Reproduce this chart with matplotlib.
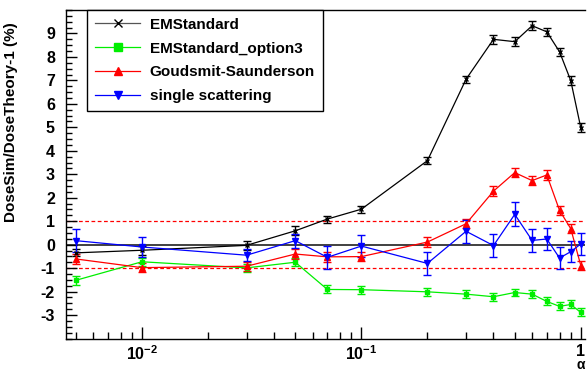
import matplotlib
matplotlib.use("Agg")
import matplotlib.pyplot as plt
from matplotlib.lines import Line2D
from matplotlib.ticker import FixedLocator, LogLocator, MultipleLocator, NullFormatter, FixedFormatter

plt.rcParams['font.family'] = ['Liberation Sans', 'DejaVu Sans']
plt.rcParams['font.weight'] = 'bold'
plt.rcParams['axes.unicode_minus'] = False
plt.rcParams['mathtext.fontset'] = 'custom'
plt.rcParams['mathtext.rm'] = 'Liberation Sans:bold'
plt.rcParams['mathtext.bf'] = 'Liberation Sans:bold'
plt.rcParams['mathtext.it'] = 'Liberation Sans:bold'

# ---- data ----
x = [0.005, 0.01, 0.03, 0.05, 0.07, 0.1, 0.2, 0.3, 0.4, 0.5, 0.6, 0.7, 0.8, 0.9, 1.0]

em_std = [-0.35, -0.24, -0.03, 0.59, 1.09, 1.51, 3.58, 7.05, 8.75, 8.65, 9.33, 9.07, 8.22, 6.99, 4.98]
em_std_err = [0.15, 0.2, 0.18, 0.2, 0.15, 0.15, 0.15, 0.15, 0.18, 0.18, 0.18, 0.17, 0.18, 0.2, 0.2]

opt3 = [-1.52, -0.73, -0.99, -0.75, -1.91, -1.92, -2.01, -2.11, -2.22, -2.04, -2.11, -2.42, -2.63, -2.55, -2.89]
opt3_err = [0.18, 0.17, 0.17, 0.17, 0.17, 0.17, 0.17, 0.17, 0.17, 0.17, 0.17, 0.17, 0.17, 0.17, 0.17]

gs = [-0.61, -0.98, -0.92, -0.40, -0.52, -0.51, 0.11, 0.89, 2.28, 3.07, 2.73, 2.97, 1.46, 0.68, -0.89]
gs_err = [0.2, 0.2, 0.2, 0.2, 0.2, 0.2, 0.2, 0.2, 0.2, 0.2, 0.2, 0.2, 0.2, 0.2, 0.2]

ss = [0.17, -0.10, -0.45, 0.17, -0.54, -0.06, -0.80, 0.57, -0.04, 1.29, 0.18, 0.24, -0.57, -0.30, 0.03]
ss_err = [0.5, 0.42, 0.25, 0.3, 0.48, 0.47, 0.49, 0.5, 0.49, 0.51, 0.5, 0.48, 0.46, 0.45, 0.48]

labels = ["EMStandard", "EMStandard_option3", "Goudsmit-Saunderson", "single scattering"]
ylabel = "DoseSim/DoseTheory-1 (%)"
xlabel = "α"
xticks = [0.01, 0.1, 1.0]
xticklabels = [r"$10^{-2}$", r"$10^{-1}$", "1"]
yticks = [-3, -2, -1, 0, 1, 2, 3, 4, 5, 6, 7, 8, 9]

# ---- figure ----
fig = plt.figure(figsize=(5.87, 3.72), dpi=100)
ax = fig.add_axes([66/587, (372-338.5)/372, (585-66)/587, (338.5-10)/372])
ax.set_xscale('log')
ax.set_xlim(0.00451, 1.045)
ax.set_ylim(-4, 10)

ax.axhline(0, color='#404040', lw=1.4, zorder=1)
ax.axhline(1, color='red', lw=0.9, dashes=(3, 2), zorder=1)
ax.axhline(-1, color='red', lw=0.9, dashes=(3, 2), zorder=1)

series = [
    (em_std, em_std_err, 'black', 'x', 3.5),
    (opt3, opt3_err, '#00ee00', 's', 3.5),
    (gs, gs_err, 'red', '^', 3.8),
    (ss, ss_err, 'blue', 'v', 3.8),
]
handles = []
for (y, e, c, m, ms), lab in zip(series, labels):
    ax.errorbar(x, y, yerr=e, color=c, marker=m, ms=ms, mew=1.0, lw=0.9,
                elinewidth=1.0, capsize=2.6, capthick=1.0, zorder=3)
    hc = '#555555' if c == 'black' else c
    handles.append(Line2D([], [], color=hc, marker=m, ms=ms * 1.7, mew=1.0, lw=0.9,
                          markerfacecolor=c, markeredgecolor=c, label=lab))

# ticks
ax.xaxis.set_major_locator(FixedLocator(xticks))
ax.xaxis.set_major_formatter(FixedFormatter(xticklabels))
ax.xaxis.set_minor_locator(LogLocator(base=10, subs=[2, 3, 4, 5, 6, 7, 8, 9]))
ax.xaxis.set_minor_formatter(NullFormatter())
ax.yaxis.set_major_locator(FixedLocator(yticks))
ax.yaxis.set_minor_locator(MultipleLocator(0.25))
ax.tick_params(axis='both', which='both', direction='in', top=False, right=False, width=1.0)
ax.tick_params(axis='y', which='major', length=8, labelsize=11.5, pad=8)
ax.tick_params(axis='y', which='minor', length=4)
ax.tick_params(axis='x', which='major', length=9, labelsize=11.5, pad=4)
ax.tick_params(axis='x', which='minor', length=5)

for s in ['left', 'bottom', 'top']:
    ax.spines[s].set_linewidth(1.0)
ax.spines['right'].set_visible(False)

ax.set_ylabel(ylabel, fontsize=11, fontweight='bold')
ax.yaxis.set_label_coords(-0.092, 0.66)

leg = ax.legend(handles=handles, loc='upper left', bbox_to_anchor=((87-66)/519, 1.0),
                borderaxespad=0, fancybox=False, edgecolor='black', framealpha=1,
                fontsize=11, handlelength=3.0, handletextpad=0.6, labelspacing=0.65,
                borderpad=0.5)
leg.get_frame().set_linewidth(1.0)
for t in leg.get_texts():
    t.set_fontweight('bold')

fig.text(581/587, 0.0, xlabel, fontsize=10, fontweight='bold', ha='center', va='bottom')

fig.savefig("out.png", dpi=100)
